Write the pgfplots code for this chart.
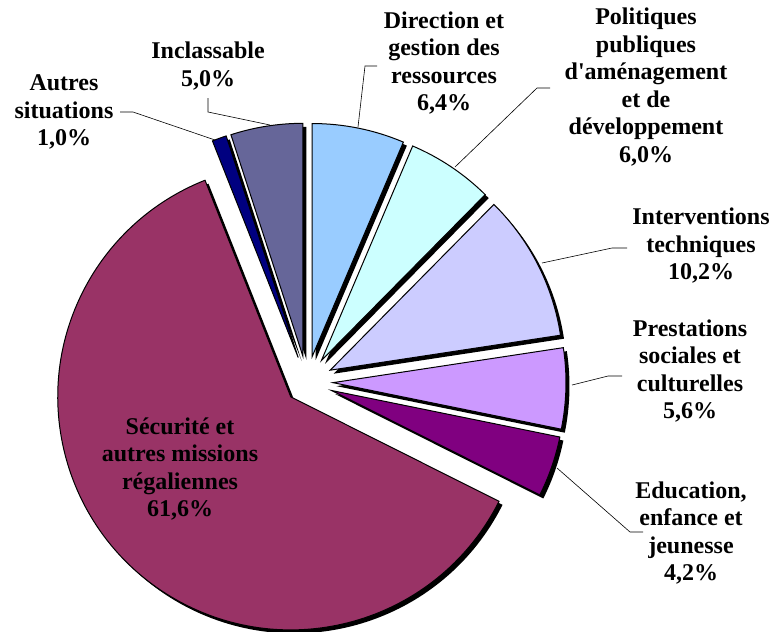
\documentclass[border=0pt]{standalone}
\usepackage{pgfplots}
\pgfplotsset{compat=1.18}
\usepackage{fontspec}
\setmainfont{Liberation Serif}
\definecolor{cDir}{HTML}{99CCFF}
\definecolor{cPol}{HTML}{CCFFFF}
\definecolor{cInt}{HTML}{CCCCFF}
\definecolor{cPre}{HTML}{CC99FF}
\definecolor{cEdu}{HTML}{800080}
\definecolor{cSec}{HTML}{993366}
\definecolor{cAut}{HTML}{000080}
\definecolor{cInc}{HTML}{666699}
% pie centre (image px), radius
\def\cx{307}\def\cy{382}\def\R{233}
% value / explode / colour, clockwise from 12 o'clock
\def\slices{6.4/26/cDir, 6.0/26/cPol, 10.2/26/cInt, 5.6/26/cPre, 4.2/26/cEdu, 61.6/22/cSec, 1.0/26/cAut, 5.0/26/cInc}
\tikzset{lbl/.style={font=\fontsize{24}{27.5}\selectfont\bfseries, align=center, inner sep=0pt}}
\begin{document}
\begin{tikzpicture}
\begin{axis}[
  width=772pt, height=632pt, scale only axis,
  xmin=0, xmax=772, ymin=0, ymax=632, y dir=reverse,
  hide axis, clip=false,
  ]
  % shadows, then slices
  \foreach \pass in {0,1}{
    \gdef\cum{0}
    \foreach \v/\d/\c in \slices {
      \pgfmathsetmacro\a{90-3.6*\cum}
      \pgfmathsetmacro\b{\a-3.6*\v}
      \pgfmathsetmacro\m{(\a+\b)/2}
      \pgfmathsetmacro\px{\cx+\d*cos(\m)}
      \pgfmathsetmacro\py{\cy-\d*sin(\m)}
      \ifnum\pass=0
        \edef\temp{\noexpand\fill[black] ([shift={(3.5pt,-3.5pt)}]axis cs:\px,\py) -- ++(\a:\R pt) arc[start angle=\a, end angle=\b, radius=\R pt] -- cycle;}
      \else
        \edef\temp{\noexpand\filldraw[fill=\c, draw=black, line width=1pt, line join=miter] (axis cs:\px,\py) -- ++(\a:\R pt) arc[start angle=\a, end angle=\b, radius=\R pt] -- cycle;}
      \fi
      \temp
      \pgfmathsetmacro\nc{\cum+\v}
      \global\let\cum\nc
    }
  }
  % leader lines
  \draw[line width=0.6pt] (axis cs:120,112) -- (axis cs:133,112) -- (axis cs:215,140);
  \draw[line width=0.6pt] (axis cs:208,98) -- (axis cs:208,112) -- (axis cs:270,125);
  \draw[line width=0.6pt] (axis cs:358,127) -- (axis cs:365,66) -- (axis cs:377,66);
  \draw[line width=0.6pt] (axis cs:455,167) -- (axis cs:537,88) -- (axis cs:550,88);
  \draw[line width=0.6pt] (axis cs:542,263) -- (axis cs:612,248) -- (axis cs:627,248);
  \draw[line width=0.6pt] (axis cs:572,385) -- (axis cs:608,376) -- (axis cs:622,376);
  \draw[line width=0.6pt] (axis cs:557,468) -- (axis cs:630,532) -- (axis cs:643,532);
  % labels
  \node[lbl] at (axis cs:64,112) {Autres\\situations\\1,0\%};
  \node[lbl] at (axis cs:208,66) {Inclassable\\5,0\%};
  \node[lbl] at (axis cs:444,63) {Direction et\\gestion des\\ressources\\6,4\%};
  \node[lbl] at (axis cs:646,87) {Politiques\\publiques\\d\textquotesingle aménagement\\et de\\développement\\6,0\%};
  \node[lbl] at (axis cs:701,246) {Interventions\\techniques\\10,2\%};
  \node[lbl] at (axis cs:690,371) {Prestations\\sociales et\\culturelles\\5,6\%};
  \node[lbl] at (axis cs:691,533) {Education,\\enfance et\\jeunesse\\4,2\%};
  \node[lbl] at (axis cs:180,469) {Sécurité et\\autres missions\\régaliennes\\61,6\%};
\end{axis}
\pgfresetboundingbox
\path (0,0) rectangle (772pt,632pt);
\end{tikzpicture}
\end{document}
